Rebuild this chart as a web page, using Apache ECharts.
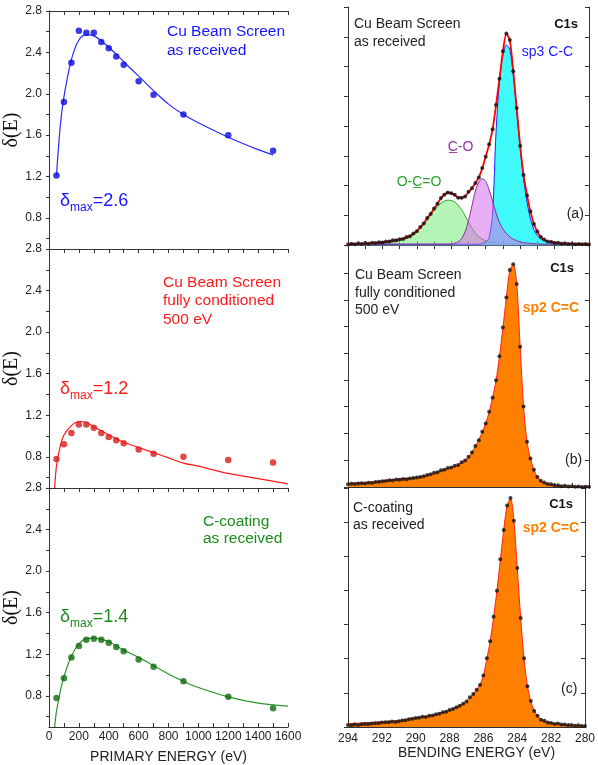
<!DOCTYPE html>
<html>
<head>
<meta charset="utf-8">
<script src="https://cdn.jsdelivr.net/npm/echarts@6/dist/echarts.min.js"></script>
<style>
  html, body { margin: 0; padding: 0; background: #fff; }
  #chart { width: 598px; height: 765px; }
</style>
</head>
<body>
<div id="chart"></div>
<script>
// --- secondary electron yield, left column ---
const peEnergy = [50, 100, 150, 200, 250, 300, 350, 400, 450, 500, 600, 700, 900, 1200, 1500]
const seyAsReceived = [1.21, 1.92, 2.30, 2.61, 2.59, 2.59, 2.50, 2.44, 2.36, 2.28, 2.12, 1.99, 1.80, 1.60, 1.45]
const seyConditioned = [0.78, 0.92, 1.03, 1.11, 1.11, 1.08, 1.03, 0.99, 0.96, 0.93, 0.87, 0.83, 0.80, 0.77, 0.745]
const seyCoating = [0.78, 0.97, 1.17, 1.28, 1.34, 1.35, 1.34, 1.31, 1.27, 1.23, 1.15, 1.08, 0.94, 0.79, 0.68]

const fitEnergyA = [50, 75, 100, 150, 200, 250, 300, 400, 500, 600, 700, 800, 900, 1000, 1200, 1400, 1500]
const fitAsReceived = [1.21, 1.68, 1.97, 2.33, 2.52, 2.57, 2.56, 2.45, 2.31, 2.17, 2.03, 1.90, 1.80, 1.72, 1.58, 1.46, 1.41]
const fitEnergyB = [38, 50, 75, 100, 150, 200, 250, 300, 400, 500, 600, 700, 800, 900, 1000, 1200, 1400, 1600]
const fitConditioned = [0.50, 0.71, 0.90, 1.01, 1.10, 1.14, 1.13, 1.09, 1.01, 0.94, 0.89, 0.84, 0.79, 0.74, 0.71, 0.64, 0.59, 0.54]
const fitCoating = [0.50, 0.65, 0.84, 0.985, 1.18, 1.30, 1.35, 1.355, 1.32, 1.24, 1.17, 1.09, 1.01, 0.94, 0.88, 0.79, 0.73, 0.70]

const seyLabelTicks = [0.8, 1.2, 1.6, 2.0, 2.4, 2.8]
const seyMinorTicks = [0.6, 0.8, 1.0, 1.2, 1.4, 1.6, 1.8, 2.0, 2.2, 2.4, 2.6, 2.8]

// --- C1s XPS spectra, right column (binding energy grid, eV) ---
const beGrid = [
  294, 293.8, 293.6, 293.4, 293.2, 293, 292.8, 292.6, 292.4, 292.2,
  292, 291.8, 291.6, 291.4, 291.2, 291, 290.8, 290.6, 290.4, 290.2,
  290, 289.8, 289.6, 289.4, 289.2, 289, 288.8, 288.6, 288.4, 288.2,
  288, 287.8, 287.6, 287.4, 287.2, 287, 286.8, 286.6, 286.4, 286.2,
  286, 285.8, 285.6, 285.4, 285.2, 285, 284.8, 284.6, 284.4, 284.2,
  284, 283.8, 283.6, 283.4, 283.2, 283, 282.8, 282.6, 282.4, 282.2,
  282, 281.8, 281.6, 281.4, 281.2, 281, 280.8, 280.6, 280.4, 280.2,
  280
]

// (a) as received
const dataA = [
  0.02, 0.05, 0.03, 0.06, 0.04, 0.07, 0.05, 0.08, 0.07, 0.10,
  0.09, 0.12, 0.12, 0.16, 0.16, 0.20, 0.21, 0.27, 0.30, 0.39,
  0.47, 0.61, 0.73, 0.91, 1.05, 1.23, 1.39, 1.58, 1.69, 1.77,
  1.74, 1.69, 1.59, 1.59, 1.63, 1.79, 1.91, 2.09, 2.27, 2.59,
  2.97, 3.39, 3.89, 4.71, 5.59, 6.51, 7.11, 6.89, 5.84, 4.61,
  3.34, 2.36, 1.67, 1.13, 0.71, 0.46, 0.27, 0.19, 0.12, 0.11,
  0.07, 0.08, 0.05, 0.06, 0.04, 0.05, 0.03, 0.04, 0.03, 0.04,
  0.02
]
const envelopeA = [
  0.03, 0.03, 0.04, 0.04, 0.05, 0.05, 0.06, 0.06, 0.07, 0.08,
  0.10, 0.11, 0.13, 0.15, 0.17, 0.19, 0.22, 0.26, 0.31, 0.38,
  0.48, 0.60, 0.74, 0.90, 1.06, 1.22, 1.40, 1.57, 1.70, 1.76,
  1.75, 1.68, 1.60, 1.58, 1.64, 1.78, 1.92, 2.08, 2.28, 2.58,
  2.98, 3.38, 3.90, 4.70, 5.60, 6.50, 7.10, 6.88, 5.85, 4.60,
  3.35, 2.35, 1.68, 1.12, 0.72, 0.45, 0.28, 0.18, 0.13, 0.10,
  0.08, 0.07, 0.06, 0.05, 0.05, 0.04, 0.04, 0.04, 0.03, 0.03,
  0.03
]
const compOCO = [
  0.03, 0.03, 0.03, 0.03, 0.03, 0.03, 0.04, 0.04, 0.05, 0.05,
  0.06, 0.07, 0.08, 0.10, 0.12, 0.15, 0.18, 0.22, 0.27, 0.35,
  0.45, 0.57, 0.70, 0.85, 1.01, 1.16, 1.30, 1.41, 1.48, 1.51,
  1.50, 1.45, 1.34, 1.19, 0.99, 0.78, 0.57, 0.40, 0.28, 0.20,
  0.15, 0.12, 0.10, 0.08, 0.07, 0.06, 0.05, 0.05, 0.04, 0.04,
  0.04, 0.04, 0.04, 0.03, 0.03, 0.03, 0.03, 0.03, 0.03, 0.03,
  0.03, 0.03, 0.03, 0.03, 0.03, 0.03, 0.03, 0.03, 0.03, 0.03,
  0.03
]
const compCO = [
  0.03, 0.03, 0.03, 0.03, 0.03, 0.03, 0.03, 0.03, 0.03, 0.03,
  0.03, 0.03, 0.03, 0.03, 0.03, 0.03, 0.03, 0.03, 0.03, 0.03,
  0.03, 0.03, 0.03, 0.03, 0.03, 0.03, 0.03, 0.03, 0.03, 0.03,
  0.03, 0.07, 0.11, 0.22, 0.45, 0.82, 1.32, 1.82, 2.12, 2.23,
  2.14, 1.86, 1.47, 1.08, 0.76, 0.54, 0.39, 0.28, 0.20, 0.15,
  0.11, 0.08, 0.07, 0.06, 0.05, 0.04, 0.03, 0.03, 0.03, 0.03,
  0.03, 0.03, 0.03, 0.03, 0.03, 0.03, 0.03, 0.03, 0.03, 0.03,
  0.03
]
const compSp3 = [
  0.03, 0.03, 0.03, 0.03, 0.03, 0.03, 0.03, 0.03, 0.03, 0.03,
  0.03, 0.03, 0.03, 0.03, 0.03, 0.03, 0.03, 0.03, 0.03, 0.03,
  0.03, 0.03, 0.03, 0.03, 0.03, 0.03, 0.03, 0.03, 0.03, 0.03,
  0.03, 0.03, 0.03, 0.03, 0.03, 0.03, 0.03, 0.03, 0.03, 0.06,
  0.10, 0.25, 1.10, 3.80, 5.50, 6.40, 6.72, 6.58, 5.72, 4.50,
  3.28, 2.22, 1.45, 0.88, 0.52, 0.32, 0.21, 0.15, 0.11, 0.08,
  0.06, 0.05, 0.04, 0.03, 0.03, 0.03, 0.03, 0.03, 0.03, 0.03,
  0.03
]

// (b) fully conditioned 500 eV
const dataB = [
  0.10, 0.12, 0.11, 0.13, 0.14, 0.13, 0.16, 0.15, 0.18, 0.19,
  0.21, 0.22, 0.25, 0.24, 0.28, 0.27, 0.30, 0.29, 0.32, 0.33,
  0.35, 0.37, 0.40, 0.45, 0.47, 0.53, 0.55, 0.62, 0.64, 0.71,
  0.73, 0.79, 0.82, 0.92, 0.99, 1.13, 1.29, 1.53, 1.75, 2.06,
  2.37, 2.81, 3.34, 3.99, 4.89, 5.96, 7.09, 8.11, 8.33, 7.59,
  5.24, 3.01, 1.69, 1.06, 0.64, 0.37, 0.23, 0.17, 0.11, 0.10,
  0.06, 0.06, 0.03, 0.04, 0.02, 0.03, 0.01, 0.02, 0.00, 0.01,
  0.01
]
const fitB = [
  0.14, 0.14, 0.15, 0.15, 0.16, 0.17, 0.18, 0.19, 0.20, 0.21,
  0.23, 0.24, 0.26, 0.27, 0.28, 0.30, 0.31, 0.32, 0.33, 0.34,
  0.36, 0.38, 0.41, 0.44, 0.48, 0.52, 0.56, 0.61, 0.65, 0.70,
  0.74, 0.78, 0.83, 0.91, 1.00, 1.12, 1.30, 1.52, 1.76, 2.05,
  2.38, 2.80, 3.35, 3.98, 4.90, 5.95, 7.10, 8.10, 8.32, 7.60,
  5.25, 3.00, 1.70, 1.05, 0.65, 0.36, 0.24, 0.16, 0.12, 0.09,
  0.07, 0.05, 0.04, 0.03, 0.03, 0.02, 0.02, 0.02, 0.01, 0.01,
  0.01
]

// (c) C-coating as received
const dataC = [
  0.06, 0.05, 0.07, 0.06, 0.08, 0.09, 0.08, 0.10, 0.11, 0.11,
  0.13, 0.14, 0.14, 0.16, 0.15, 0.17, 0.19, 0.20, 0.23, 0.24,
  0.26, 0.27, 0.30, 0.29, 0.33, 0.34, 0.37, 0.39, 0.43, 0.45,
  0.50, 0.53, 0.58, 0.62, 0.68, 0.75, 0.87, 0.97, 1.09, 1.23,
  1.51, 2.01, 2.51, 3.23, 3.99, 4.91, 5.77, 6.49, 6.71, 6.04,
  4.66, 3.19, 2.01, 1.19, 0.76, 0.47, 0.33, 0.21, 0.18, 0.13,
  0.12, 0.09, 0.10, 0.07, 0.07, 0.05, 0.06, 0.04, 0.05, 0.03,
  0.03
]
const fitC = [
  0.10, 0.10, 0.11, 0.11, 0.12, 0.12, 0.13, 0.13, 0.14, 0.15,
  0.15, 0.16, 0.17, 0.17, 0.18, 0.19, 0.20, 0.22, 0.24, 0.25,
  0.27, 0.28, 0.30, 0.31, 0.33, 0.35, 0.37, 0.40, 0.43, 0.46,
  0.50, 0.54, 0.58, 0.63, 0.68, 0.76, 0.86, 0.98, 1.09, 1.24,
  1.52, 2.00, 2.52, 3.22, 4.00, 4.90, 5.78, 6.48, 6.70, 6.05,
  4.65, 3.20, 2.00, 1.20, 0.75, 0.48, 0.32, 0.22, 0.17, 0.14,
  0.12, 0.10, 0.09, 0.08, 0.07, 0.06, 0.05, 0.05, 0.04, 0.04,
  0.03
]

const FONT = '"Liberation Sans", Arial, sans-serif'
const AXIS = '#333'
const LABEL = '#222'

const pairs = (xs, ys) => xs.map((x, i) => [x, ys[i]])

const grids = [
  { left: 49, top: 11, width: 239, height: 238 },
  { left: 49, top: 249, width: 239, height: 239 },
  { left: 49, top: 488, width: 239, height: 239 },
  { left: 348, top: 7, width: 241, height: 242 },
  { left: 348, top: 249, width: 241, height: 239 },
  { left: 348, top: 488, width: 241, height: 239 }
]

const xAxes = []
const yAxes = []

// left column: SEY vs primary energy
for (let g = 0; g < 3; g++) {
  const bottom = g === 2
  const common = {
    gridIndex: g, type: 'value', min: 0, max: 1600, interval: 100,
    axisLine: { lineStyle: { color: AXIS } },
    splitLine: { show: false }
  }
  xAxes.push({
    ...common, position: 'bottom',
    axisTick: { show: bottom, inside: true, length: 4, lineStyle: { color: AXIS } },
    axisLabel: {
      show: bottom, color: LABEL, fontSize: 12, fontFamily: FONT, margin: 4,
      formatter: v => (v % 200 === 0 ? String(v) : '')
    },
    name: bottom ? 'PRIMARY ENERGY (eV)' : '',
    nameLocation: 'middle', nameGap: 23,
    nameTextStyle: { color: LABEL, fontSize: 14, fontFamily: FONT }
  })
  xAxes.push({
    ...common, position: 'top',
    axisTick: { inside: true, length: 4, lineStyle: { color: AXIS } },
    axisLabel: { show: false }
  })
  const ycommon = {
    gridIndex: g, type: 'value', min: 0.5, max: 2.8,
    axisLine: { show: true, lineStyle: { color: AXIS } },
    splitLine: { show: false }
  }
  yAxes.push({
    ...ycommon, position: 'left',
    axisTick: { inside: false, length: 3, customValues: seyMinorTicks, lineStyle: { color: AXIS } },
    axisLabel: {
      color: LABEL, fontSize: 12, fontFamily: FONT, margin: 7,
      customValues: seyLabelTicks, formatter: v => v.toFixed(1)
    },
    name: 'δ(E)', nameLocation: 'middle', nameGap: 21,
    nameTextStyle: { color: '#111', fontSize: 20, fontFamily: '"Liberation Serif", "Times New Roman", serif' }
  })
  yAxes.push({
    ...ycommon, position: 'right',
    axisTick: { inside: true, length: 3, customValues: seyMinorTicks, lineStyle: { color: AXIS } },
    axisLabel: { show: false }
  })
}

// right column: C1s spectra
const spectraY = [
  { min: -0.13, max: 8, ticks: [0, 1, 2, 3, 4, 5, 6, 7, 8] },
  { min: -0.04, max: 8.9, ticks: [0, 1, 2, 3, 4, 5, 6, 7, 8] },
  { min: 0, max: 7, ticks: [0, 1, 2, 3, 4, 5, 6, 7] }
]
for (let k = 0; k < 3; k++) {
  const g = 3 + k
  const bottom = k === 2
  const common = {
    gridIndex: g, type: 'value', min: 280, max: 294, interval: 1, inverse: true,
    axisLine: { lineStyle: { color: AXIS } },
    splitLine: { show: false }
  }
  xAxes.push({
    ...common, position: 'bottom',
    axisTick: { inside: true, length: 4, lineStyle: { color: AXIS } },
    axisLabel: {
      show: bottom, color: LABEL, fontSize: 12, fontFamily: FONT, margin: 6,
      formatter: v => (v % 2 === 0 ? String(v) : '')
    },
    name: bottom ? 'BENDING ENERGY (eV)' : '',
    nameLocation: 'middle', nameGap: 19,
    nameTextStyle: { color: LABEL, fontSize: 14, fontFamily: FONT, padding: [0, 0, 0, 20] }
  })
  xAxes.push({
    ...common, position: 'top',
    axisTick: { show: k === 0, inside: true, length: 4, lineStyle: { color: AXIS } },
    axisLabel: { show: false }
  })
  const s = spectraY[k]
  const ycommon = {
    gridIndex: g, type: 'value', min: s.min, max: s.max,
    axisLine: { show: true, lineStyle: { color: AXIS } },
    splitLine: { show: false },
    axisLabel: { show: false }
  }
  yAxes.push({
    ...ycommon, position: 'left',
    axisTick: { inside: false, length: 4, customValues: s.ticks, lineStyle: { color: AXIS } }
  })
  yAxes.push({
    ...ycommon, position: 'right',
    axisTick: { inside: true, length: 4, customValues: s.ticks, lineStyle: { color: AXIS } }
  })
}

function seyPanel(g, fitX, fitY, points, lineColor, dotColor) {
  return [
    {
      type: 'line', xAxisIndex: 2 * g, yAxisIndex: 2 * g,
      data: pairs(fitX, fitY), smooth: 0.35, showSymbol: false,
      lineStyle: { color: lineColor, width: 1.2 }, z: 2
    },
    {
      type: 'scatter', xAxisIndex: 2 * g, yAxisIndex: 2 * g,
      data: pairs(peEnergy, points), symbolSize: 6.5,
      itemStyle: { color: dotColor }, z: 3
    }
  ]
}

function dots(g, values) {
  return {
    type: 'scatter', xAxisIndex: 2 * g, yAxisIndex: 2 * g,
    data: pairs(beGrid, values), symbolSize: 4,
    itemStyle: { color: '#111' }, z: 6
  }
}

function component(g, values, line, fill, z) {
  return {
    type: 'line', xAxisIndex: 2 * g, yAxisIndex: 2 * g,
    data: pairs(beGrid, values), smooth: 0.3, showSymbol: false,
    lineStyle: { color: line, width: 1 }, areaStyle: { color: fill, opacity: 1 }, z
  }
}

const series = [
  ...seyPanel(0, fitEnergyA, fitAsReceived, seyAsReceived, '#2a2aff', '#0a0ae0'),
  ...seyPanel(1, fitEnergyB, fitConditioned, seyConditioned, '#ff1a1a', '#d81a1a'),
  ...seyPanel(2, fitEnergyB, fitCoating, seyCoating, '#2a962a', '#0f6a0f'),
  component(3, compOCO, '#3c9c3c', 'rgba(140,238,140,0.65)', 2),
  component(3, compSp3, '#2222ff', 'rgba(0,248,248,0.75)', 3),
  component(3, compCO, '#8a2c9a', 'rgba(215,110,235,0.55)', 4),
  {
    type: 'line', xAxisIndex: 6, yAxisIndex: 6, data: pairs(beGrid, envelopeA),
    smooth: 0.3, showSymbol: false, lineStyle: { color: '#ff0000', width: 1.8 }, z: 5
  },
  dots(3, dataA),
  component(4, fitB, '#ff2020', '#ff8000', 2),
  dots(4, dataB),
  component(5, fitC, '#ff2020', '#ff8000', 2),
  dots(5, dataC)
]

const txt = (left, top, text, color, size, lh, weight) => ({
  type: 'text', left, top,
  style: { text, fill: color, fontSize: size, lineHeight: lh, fontFamily: FONT, fontWeight: weight || 'normal' }
})
const txtR = (right, top, text, color, size, lh, weight) => ({
  type: 'text', right, top,
  style: { text, fill: color, fontSize: size, lineHeight: lh, fontFamily: FONT, fontWeight: weight || 'normal' }
})
const deltaMax = (left, top, value, color) => ({
  type: 'text', left, top,
  style: {
    text: `{d|δ}{s|max}{d|=${value}}`,
    fill: color,
    rich: {
      d: { fontSize: 18, lineHeight: 22, fontFamily: FONT, fill: color, verticalAlign: 'top' },
      s: { fontSize: 12, lineHeight: 12, fontFamily: FONT, fill: color, verticalAlign: 'top', padding: [10, 0, 0, 0] }
    }
  }
})

const graphic = [
  txt(167, 22.5, 'Cu Beam Screen\nas received', '#1515ff', 15.5, 18.5),
  deltaMax(60, 192, '2.6', '#1515ff'),
  txt(163, 273, 'Cu Beam Screen\nfully conditioned\n500 eV', '#ff1a1a', 15.5, 18.8),
  deltaMax(60, 380, '1.2', '#ff1a1a'),
  txt(203, 512.5, 'C-coating\nas received', '#1a8c1a', 15.5, 17.5),
  deltaMax(60, 608, '1.4', '#1a8c1a'),

  txt(354, 15.5, 'Cu Beam Screen\nas received', '#222', 14, 17.6),
  txtR(20, 15.5, 'C1s', '#111', 13, 17.6, 'bold'),
  txt(521.7, 43.5, 'sp3 C-C', '#2020ff', 14, 17.6),
  txt(447.7, 138, 'C\u0332-O', '#9b30a8', 14, 17.6),
  txt(396.7, 173, 'O-C\u0332=O', '#2ca02c', 14, 17.6),
  txt(566.7, 205, '(a)', '#222', 14, 17.6),

  txt(355, 266, 'Cu Beam Screen\nfully conditioned\n500 eV', '#222', 14, 17.8),
  txtR(24, 259.5, 'C1s', '#111', 13, 17.6, 'bold'),
  txt(522.7, 299.5, 'sp2 C=C', '#ff8000', 14, 17.6, 'bold'),
  txt(565, 451, '(b)', '#222', 14, 17.6),

  txt(353, 499.5, 'C-coating\nas received', '#222', 14, 17.4),
  txtR(25, 495.5, 'C1s', '#111', 13, 17.6, 'bold'),
  txt(522.7, 519.5, 'sp2 C=C', '#ff8000', 14, 17.6, 'bold'),
  txt(561, 680, '(c)', '#222', 14, 17.6)
]

const chart = echarts.init(document.getElementById('chart'))
chart.setOption({
  backgroundColor: '#fff',
  animation: false,
  grid: grids,
  xAxis: xAxes,
  yAxis: yAxes,
  series,
  graphic
})
</script>
</body>
</html>
